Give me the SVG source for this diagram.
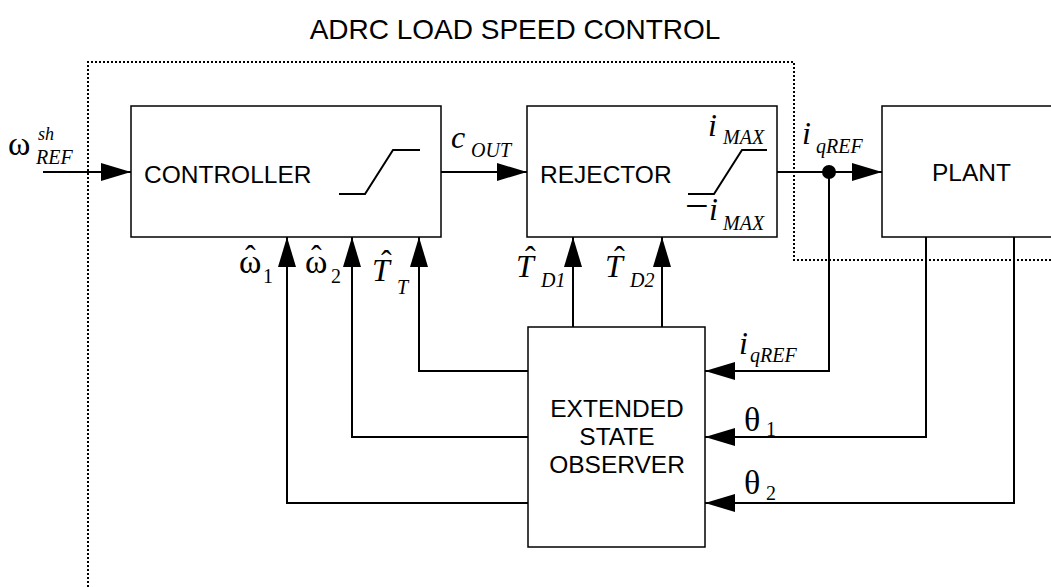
<svg xmlns="http://www.w3.org/2000/svg" width="1051" height="587" viewBox="0 0 1051 587">
<style>
.box{fill:#fff;stroke:#000;stroke-width:1.5}
.ln{fill:none;stroke:#000;stroke-width:2}
.arr{marker-end:url(#ah)}
.dot{fill:none;stroke:#000;stroke-width:2;stroke-dasharray:2 2}
.lbl{font-family:"Liberation Sans",Arial,sans-serif;font-size:24.5px;fill:#000}
.m{font-family:"Liberation Serif","Times New Roman",serif;fill:#000;font-size:20px}
.it{font-style:italic}
.up{font-style:normal}
.big{font-size:32px}
.gr{font-size:34px}
.sub{font-size:20px}
</style>
<defs>
<marker id="ah" viewBox="0 0 30 18" refX="30" refY="9" markerWidth="30" markerHeight="18" markerUnits="userSpaceOnUse" orient="auto">
<path d="M0,0 L30,9 L0,18 Z" fill="#000"/>
</marker>
</defs>
<rect width="1051" height="587" fill="#fff"/>
<text class="lbl" x="515" y="39" text-anchor="middle" style="font-size:28px">ADRC LOAD SPEED CONTROL</text>
<path class="dot" d="M88,587 V62 H794 V260 H1051"/>
<g id="controller">
<rect class="box" x="131" y="106" width="310" height="131"/>
<text class="lbl" x="144" y="183">CONTROLLER</text>
<path class="ln" d="M339,194 H365 L393,150 H420"/>
</g>
<g id="rejector">
<rect class="box" x="527" y="106" width="250" height="131"/>
<text class="lbl" x="540" y="183">REJECTOR</text>
<path class="ln" d="M688,194 H714 L742,150 H767"/>
<text class="m it"><tspan class="big" x="708" y="136">i</tspan><tspan class="sub" x="723" y="144">MAX</tspan></text>
<text class="m it"><tspan class="up" style="font-size:42px" x="685" y="220">−</tspan><tspan class="big" x="709" y="220">i</tspan><tspan class="sub" x="723" y="230">MAX</tspan></text>
</g>
<g id="plant">
<rect class="box" x="882" y="106" width="180" height="131"/>
<text class="lbl" x="932" y="181">PLANT</text>
</g>
<g id="eso">
<rect class="box" x="528" y="327" width="177" height="220"/>
<text class="lbl" x="617" y="417" text-anchor="middle">EXTENDED</text>
<text class="lbl" x="617" y="445" text-anchor="middle">STATE</text>
<text class="lbl" x="617" y="473" text-anchor="middle">OBSERVER</text>
</g>
<g id="connectors">
<path class="ln arr" d="M43,172 H131"/>
<path class="ln arr" d="M441,172 H527"/>
<path class="ln arr" d="M777,172 H882"/>
<circle cx="829" cy="172" r="7" fill="#000"/>
<path class="ln arr" d="M829,172 V371 H705"/>
<path class="ln arr" d="M926,237 V437 H705"/>
<path class="ln arr" d="M1014,237 V503 H705"/>
<path class="ln arr" d="M573,327 V237"/>
<path class="ln arr" d="M662,327 V237"/>
<path class="ln arr" d="M528,371 H419 V237"/>
<path class="ln arr" d="M528,437 H352 V237"/>
<path class="ln arr" d="M528,503 H287 V237"/>
</g>
<g id="labels">
<text class="m"><tspan class="gr" x="8" y="155">ω</tspan><tspan class="it" style="font-size:18px" x="38" y="140">sh</tspan><tspan class="it sub" x="36" y="164">REF</tspan></text>
<text class="m it"><tspan class="big" x="451" y="148">c</tspan><tspan class="sub" x="471" y="157">OUT</tspan></text>
<text class="m it"><tspan class="big" x="802" y="144">i</tspan><tspan class="sub" x="816" y="153">qREF</tspan></text>
<text class="m"><tspan class="gr" x="239" y="273">ω</tspan><tspan class="big" x="245" y="267">ˆ</tspan><tspan class="sub" x="263" y="283">1</tspan></text>
<text class="m"><tspan class="gr" x="305" y="273">ω</tspan><tspan class="big" x="311" y="267">ˆ</tspan><tspan class="sub" x="331" y="283">2</tspan></text>
<text class="m"><tspan class="big it" x="372" y="281">T</tspan><tspan class="big" x="381" y="272">ˆ</tspan><tspan class="sub it" x="397" y="294">T</tspan></text>
<text class="m"><tspan class="big it" x="516" y="277">T</tspan><tspan class="big" x="525" y="268">ˆ</tspan><tspan class="sub it" x="541" y="287">D1</tspan></text>
<text class="m"><tspan class="big it" x="605" y="277">T</tspan><tspan class="big" x="614" y="268">ˆ</tspan><tspan class="sub it" x="630" y="287">D2</tspan></text>
<text class="m it"><tspan class="big" x="739" y="354">i</tspan><tspan class="sub" x="750" y="362">qREF</tspan></text>
<text class="m"><tspan class="gr" x="744" y="431">θ</tspan><tspan class="sub" x="766" y="436">1</tspan></text>
<text class="m"><tspan class="gr" x="744" y="494">θ</tspan><tspan class="sub" x="766" y="500">2</tspan></text>
</g>
</svg>
